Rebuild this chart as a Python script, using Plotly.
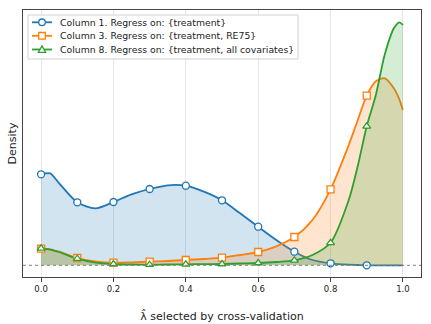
import plotly.graph_objects as go

# curve readings (density, arbitrary units) along lambda-hat
curve_x = [0.0, 0.025, 0.05, 0.1, 0.15, 0.2, 0.25, 0.3, 0.35, 0.4, 0.45, 0.5,
           0.55, 0.6, 0.65, 0.7, 0.75, 0.8, 0.85, 0.875, 0.9, 0.925, 0.95, 0.975, 0.99, 1.0]
col1_curve = [91, 92, 82, 63, 57, 63.3, 71, 76.3, 80, 79.6, 73.6, 65,
              52, 38.6, 25.3, 13.6, 5.3, 2, 0.6, 0.3, 0, 0, 0, 0, 0, 0]
col3_curve = [16.6, 15.5, 13.6, 7.3, 4, 2.6, 3, 3.6, 4.3, 5.3, 6.3, 7.6,
              10.3, 13.3, 19, 28.3, 45.3, 76, 120, 145, 169.6, 184, 187, 177, 166, 155.3]
col8_curve = [17, 16, 13.3, 6.6, 2.6, 1.3, 0.8, 0.6, 0.8, 1, 1.2, 1.3,
              1.8, 2.3, 3.3, 5, 10.3, 22.5, 65, 99, 139, 170, 211, 237, 243, 240.3]

# marker values at the evaluated lambda grid
grid_x = [0.0, 0.1, 0.2, 0.3, 0.4, 0.5, 0.6, 0.7, 0.8, 0.9]
col1_pts = [91, 63, 63.3, 76.3, 79.6, 65, 38.6, 13.6, 2, 0]
col3_pts = [16.6, 7.3, 2.6, 3.6, 5.3, 7.6, 13.3, 28.3, 76, 169.6]
col8_pts = [17, 6.6, 1.3, 0.6, 1, 1.3, 2.3, 5, 22.5, 139]

tick_vals = [0.0, 0.2, 0.4, 0.6, 0.8, 1.0]
tick_text = ["0.0", "0.2", "0.4", "0.6", "0.8", "1.0"]

names = ["Column 1. Regress on: {treatment}",
         "Column 3. Regress on: {treatment, RE75}",
         "Column 8. Regress on: {treatment, all covariates}"]
colors = ["#1f77b4", "#ff7f0e", "#2ca02c"]
fills = ["rgba(31,119,180,0.2)", "rgba(255,127,14,0.2)", "rgba(44,160,44,0.2)"]
symbols = ["circle", "square", "triangle-up"]

W, H = 431, 324
M = dict(l=23, r=10, t=10, b=47)
PW, PH = W - M["l"] - M["r"], H - M["t"] - M["b"]


def px(x):  # pixel -> paper x
    return (x - M["l"]) / PW


def py(y):  # pixel -> paper y
    return (H - M["b"] - y) / PH


fig = go.Figure()

curves = [col1_curve, col3_curve, col8_curve]
points = [col1_pts, col3_pts, col8_pts]

for ys, c, fc in zip(curves, colors, fills):
    fig.add_trace(go.Scatter(x=curve_x, y=ys, mode="lines",
                             line=dict(color=c, width=1.8, shape="spline", smoothing=0.8),
                             fill="tozeroy", fillcolor=fc, showlegend=False,
                             hoverinfo="skip"))

for ys, c, sym, n in zip(points, colors, symbols, names):
    fig.add_trace(go.Scatter(x=grid_x, y=ys, mode="markers", name=n,
                             marker=dict(symbol=sym, size=7, color="white",
                                         line=dict(color=c, width=1.3)),
                             showlegend=False))

# dotted zero line
fig.add_shape(type="line", xref="paper", yref="y", x0=0, x1=1, y0=0, y1=0,
              line=dict(color="#808080", width=1, dash="dot"))

# compact legend (matplotlib-like spacing)
fig.add_shape(type="rect", xref="paper", yref="paper",
              x0=px(28), x1=px(298), y0=py(59), y1=py(15),
              line=dict(color="#d0d0d0", width=1), fillcolor="rgba(255,255,255,0.85)")
rows = [22.3, 35.8, 49.5]
for yy, n, c, sym in zip(rows, names, colors, symbols):
    fig.add_shape(type="line", xref="paper", yref="paper",
                  x0=px(32), x1=px(52), y0=py(yy), y1=py(yy),
                  line=dict(color=c, width=1.8))
    xa, ya = px(42), py(yy)
    if sym == "circle":
        fig.add_shape(type="circle", xref="paper", yref="paper", xsizemode="pixel",
                      ysizemode="pixel", xanchor=xa, yanchor=ya,
                      x0=-3.3, x1=3.3, y0=-3.3, y1=3.3,
                      line=dict(color=c, width=1.3), fillcolor="white")
    elif sym == "square":
        fig.add_shape(type="rect", xref="paper", yref="paper", xsizemode="pixel",
                      ysizemode="pixel", xanchor=xa, yanchor=ya,
                      x0=-3.3, x1=3.3, y0=-3.3, y1=3.3,
                      line=dict(color=c, width=1.3), fillcolor="white")
    else:
        fig.add_shape(type="path", xref="paper", yref="paper", xsizemode="pixel",
                      ysizemode="pixel", xanchor=xa, yanchor=ya,
                      path="M -3.6,-2.8 L 3.6,-2.8 L 0,3.6 Z",
                      line=dict(color=c, width=1.3), fillcolor="white")
    fig.add_annotation(x=px(58), y=py(yy), xref="paper", yref="paper",
                       text=n, showarrow=False, xanchor="left", yanchor="middle",
                       font=dict(size=9.3, color="#222"))

fig.update_layout(
    width=W, height=H,
    margin=M,
    paper_bgcolor="white", plot_bgcolor="white",
    font=dict(family="DejaVu Sans", size=9, color="#222"),
    showlegend=False,
)
fig.update_xaxes(range=[-0.05, 1.05], tickvals=tick_vals, ticktext=tick_text,
                 showgrid=True, gridcolor="#e6e6e6", gridwidth=1, automargin=False,
                 zeroline=False, showline=True, linecolor="#444", linewidth=1, mirror=True,
                 ticks="outside", ticklen=3.5, tickcolor="#444", tickfont=dict(size=8.5),
                 title=dict(text="λ̂ selected by cross-validation", font=dict(size=11), standoff=19))
fig.update_yaxes(range=[-11.7, 255.3], showgrid=False, zeroline=False, automargin=False,
                 showticklabels=False, ticks="",
                 showline=True, linecolor="#444", linewidth=1, mirror=True,
                 title=dict(text="Density", font=dict(size=11), standoff=3))

fig.write_html("out.html", config={"displayModeBar": False},
               post_script="document.body.style.margin='0';")
